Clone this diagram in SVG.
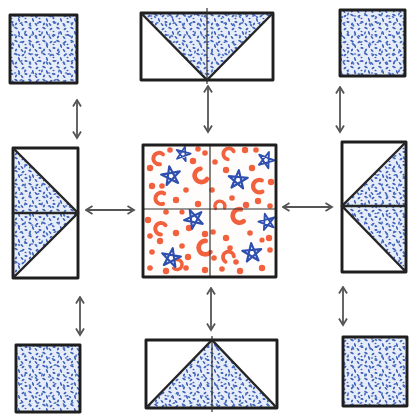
<svg xmlns="http://www.w3.org/2000/svg" width="409" height="414" viewBox="0 0 409 414">
<style>
.o{fill:none;stroke:#1e1e1e;stroke-width:2.9;stroke-linejoin:round}
.t{fill:none;stroke:#262626;stroke-width:2.4}
.g{stroke:#333;stroke-width:1.2;fill:none}
.sp{fill:url(#spA)}
.sp2{fill:url(#spB)}
.arr{stroke:#555;stroke-width:1.8;fill:none;marker-start:url(#ah);marker-end:url(#ah)}
.rd{fill:#f2613d}
.rc{fill:none;stroke:#f2613d;stroke-width:3.4;stroke-linecap:round}
.st{fill:none;stroke:#2f4fb0;stroke-width:2;stroke-linejoin:round}
</style>
<defs>
<pattern id="spA" width="14" height="13" patternUnits="userSpaceOnUse">
<rect width="14" height="13" fill="#e6ecf8"/>
<g fill="#3a5fb6">
<ellipse cx="2" cy="2" rx="1.9" ry="0.9" transform="rotate(30 2 2)"/>
<ellipse cx="9" cy="3" rx="1.7" ry="0.9" transform="rotate(-40 9 3)"/>
<ellipse cx="5" cy="7" rx="2" ry="0.9" transform="rotate(70 5 7)"/>
<ellipse cx="12" cy="9" rx="1.6" ry="0.9" transform="rotate(10 12 9)"/>
<ellipse cx="2" cy="11" rx="1.5" ry="0.9" transform="rotate(-60 2 11)"/>
<ellipse cx="8" cy="11.5" rx="1.8" ry="0.8" transform="rotate(50 8 11.5)"/>
<ellipse cx="11.5" cy="5.5" rx="1" ry="0.8"/>
</g>
</pattern>
<pattern id="spB" width="17" height="19" patternUnits="userSpaceOnUse">
<g fill="#4f72c2">
<ellipse cx="4" cy="4" rx="1.7" ry="0.9" transform="rotate(-20 4 4)"/>
<ellipse cx="13" cy="6" rx="2" ry="1" transform="rotate(60 13 6)"/>
<ellipse cx="8" cy="14" rx="1.7" ry="0.9" transform="rotate(-70 8 14)"/>
<ellipse cx="15" cy="16" rx="1.3" ry="0.8"/>
<ellipse cx="2" cy="17" rx="1.5" ry="0.8" transform="rotate(35 2 17)"/>
</g>
</pattern>
<marker id="ah" viewBox="0 0 10 10" refX="8.5" refY="5" markerWidth="10" markerHeight="10" markerUnits="userSpaceOnUse" orient="auto-start-reverse">
<path d="M2,1 L8.5,5 L2,9" fill="none" stroke="#555" stroke-width="1.8"/>
</marker>
<path id="star" d="M0,-9 L5.3,7.3 L-8.6,-2.8 L8.6,-2.8 L-5.3,7.3 Z"/>
<path id="cc" d="M3,-4.5 A5,5 0 1 0 3.5,4.5"/>
</defs>
<rect width="409" height="414" fill="#ffffff"/>

<g id="top-left">
<rect x="10" y="15" width="67" height="68" class="sp"/>
<rect x="10" y="15" width="67" height="68" class="sp2"/>
<rect x="10" y="15" width="67" height="68" class="o"/>
</g>

<g id="top-middle">
<polygon points="141,13 273,13 207,80" class="sp"/>
<polygon points="141,13 273,13 207,80" class="sp2"/>
<rect x="141" y="13" width="132" height="67" class="o"/>
<line x1="207" y1="8" x2="207" y2="84" class="g"/>
<polyline points="141,13 207,80 273,13" class="t"/>
</g>

<g id="top-right">
<rect x="340" y="10" width="65" height="66" class="sp"/>
<rect x="340" y="10" width="65" height="66" class="sp2"/>
<rect x="340" y="10" width="65" height="66" class="o"/>
</g>

<g id="middle-left">
<polygon points="13,148 78,213 13,278" class="sp"/>
<polygon points="13,148 78,213 13,278" class="sp2"/>
<rect x="13" y="148" width="65" height="130" class="o"/>
<line x1="13" y1="213" x2="78" y2="213" class="t"/>
<polyline points="13,148 78,213 13,278" class="t"/>
</g>

<g id="center">
<rect x="143" y="145" width="133" height="132" fill="#fffdfb"/>
<g class="rd">
<circle cx="150" cy="168" r="3.2"/><circle cx="152" cy="186" r="3.2"/><circle cx="148" cy="220" r="3.2"/>
<circle cx="166" cy="212" r="2.8"/><circle cx="176" cy="200" r="3.2"/><circle cx="186" cy="190" r="2.8"/>
<circle cx="160" cy="241" r="3.2"/><circle cx="152" cy="252" r="2.8"/><circle cx="176" cy="233" r="3.2"/>
<circle cx="182" cy="246" r="2.8"/><circle cx="189" cy="228" r="3.2"/><circle cx="150" cy="268" r="2.8"/>
<circle cx="166" cy="271" r="3.2"/><circle cx="186" cy="268" r="2.8"/><circle cx="205" cy="270" r="3.2"/>
<circle cx="222" cy="269" r="2.8"/><circle cx="240" cy="271" r="3.2"/><circle cx="262" cy="268" r="3.2"/>
<circle cx="270" cy="250" r="2.8"/><circle cx="269" cy="238" r="3.2"/><circle cx="250" cy="233" r="2.8"/>
<circle cx="226" cy="238" r="3.2"/><circle cx="213" cy="232" r="2.8"/><circle cx="205" cy="234" r="3.2"/>
<circle cx="198" cy="204" r="3.2"/><circle cx="212" cy="190" r="2.8"/><circle cx="226" cy="170" r="3.2"/>
<circle cx="215" cy="162" r="2.8"/><circle cx="245" cy="150" r="3.2"/><circle cx="256" cy="150" r="2.8"/>
<circle cx="258" cy="201" r="3.2"/><circle cx="270" cy="206" r="2.8"/><circle cx="246" cy="205" r="3.2"/>
<circle cx="232" cy="198" r="2.8"/><circle cx="252" cy="168" r="3.2"/><circle cx="205" cy="153" r="2.8"/>
<circle cx="193" cy="161" r="3.2"/><circle cx="170" cy="150" r="2.8"/><circle cx="271" cy="182" r="3.2"/>
<circle cx="236" cy="262" r="2.8"/><circle cx="188" cy="257" r="3.2"/><circle cx="214" cy="258" r="2.8"/>
<circle cx="162" cy="186" r="2.8"/><circle cx="198" cy="149" r="2.8"/><circle cx="230" cy="248" r="2.8"/>
<circle cx="150" cy="236" r="2.8"/><circle cx="182" cy="212" r="2.6"/><circle cx="262" cy="240" r="2.6"/>
</g>
<g class="rc">
<use href="#cc" transform="translate(158,158) rotate(20) scale(1.15)"/>
<use href="#cc" transform="translate(200,176) rotate(-30) scale(1.35)"/>
<use href="#cc" transform="translate(228,153) rotate(40) scale(1.1)"/>
<use href="#cc" transform="translate(258,186) rotate(0) scale(1.25)"/>
<use href="#cc" transform="translate(160,198) rotate(10) scale(1.15)"/>
<use href="#cc" transform="translate(238,216) rotate(-10) scale(1.35)"/>
<use href="#cc" transform="translate(160,228) rotate(30) scale(1.15)"/>
<use href="#cc" transform="translate(204,248) rotate(-20) scale(1.35)"/>
<use href="#cc" transform="translate(228,256) rotate(60) scale(1.1)"/>
<use href="#cc" transform="translate(220,205) rotate(90)"/>
<use href="#cc" transform="translate(178,265) rotate(200)"/>
</g>
<g class="st">
<use href="#star" transform="translate(183,154) scale(0.85) rotate(15)"/>
<use href="#star" transform="translate(171,176) scale(1.1) rotate(-10)"/>
<use href="#star" transform="translate(238,180) scale(1.1) rotate(5)"/>
<use href="#star" transform="translate(266,160) scale(0.95) rotate(20)"/>
<use href="#star" transform="translate(194,219) scale(1.1) rotate(-25)"/>
<use href="#star" transform="translate(267,222) scale(0.95) rotate(-15)"/>
<use href="#star" transform="translate(171,258) scale(1.1) rotate(10)"/>
<use href="#star" transform="translate(252,253) scale(1.1) rotate(-5)"/>
</g>
<line x1="210" y1="145" x2="210" y2="277" class="g"/>
<line x1="143" y1="209" x2="276" y2="209" class="g"/>
<rect x="143" y="145" width="133" height="132" class="o"/>
</g>

<g id="middle-right">
<polygon points="406,142 342,206 406,272" class="sp"/>
<polygon points="406,142 342,206 406,272" class="sp2"/>
<rect x="342" y="142" width="64" height="130" class="o"/>
<line x1="342" y1="206" x2="406" y2="206" class="t"/>
<polyline points="406,142 342,206 406,272" class="t"/>
</g>

<g id="bottom-left">
<rect x="16" y="345" width="64" height="67" class="sp"/>
<rect x="16" y="345" width="64" height="67" class="sp2"/>
<rect x="16" y="345" width="64" height="67" class="o"/>
</g>

<g id="bottom-middle">
<polygon points="146,408 212,340 277,408" class="sp"/>
<polygon points="146,408 212,340 277,408" class="sp2"/>
<rect x="146" y="340" width="131" height="68" class="o"/>
<line x1="212" y1="336" x2="212" y2="412" class="g"/>
<polyline points="146,408 212,340 277,408" class="t"/>
</g>

<g id="bottom-right">
<rect x="343" y="337" width="64" height="69" class="sp"/>
<rect x="343" y="337" width="64" height="69" class="sp2"/>
<rect x="343" y="337" width="64" height="69" class="o"/>
</g>

<g id="connectors">
<line x1="77" y1="100" x2="77" y2="138" class="arr"/>
<line x1="208" y1="86" x2="208" y2="132" class="arr"/>
<line x1="340" y1="87" x2="340" y2="132" class="arr"/>
<line x1="86" y1="210" x2="134" y2="210" class="arr"/>
<line x1="283" y1="207" x2="332" y2="207" class="arr"/>
<line x1="80" y1="297" x2="80" y2="335" class="arr"/>
<line x1="211" y1="288" x2="211" y2="330" class="arr"/>
<line x1="343" y1="287" x2="343" y2="325" class="arr"/>
</g>
</svg>
